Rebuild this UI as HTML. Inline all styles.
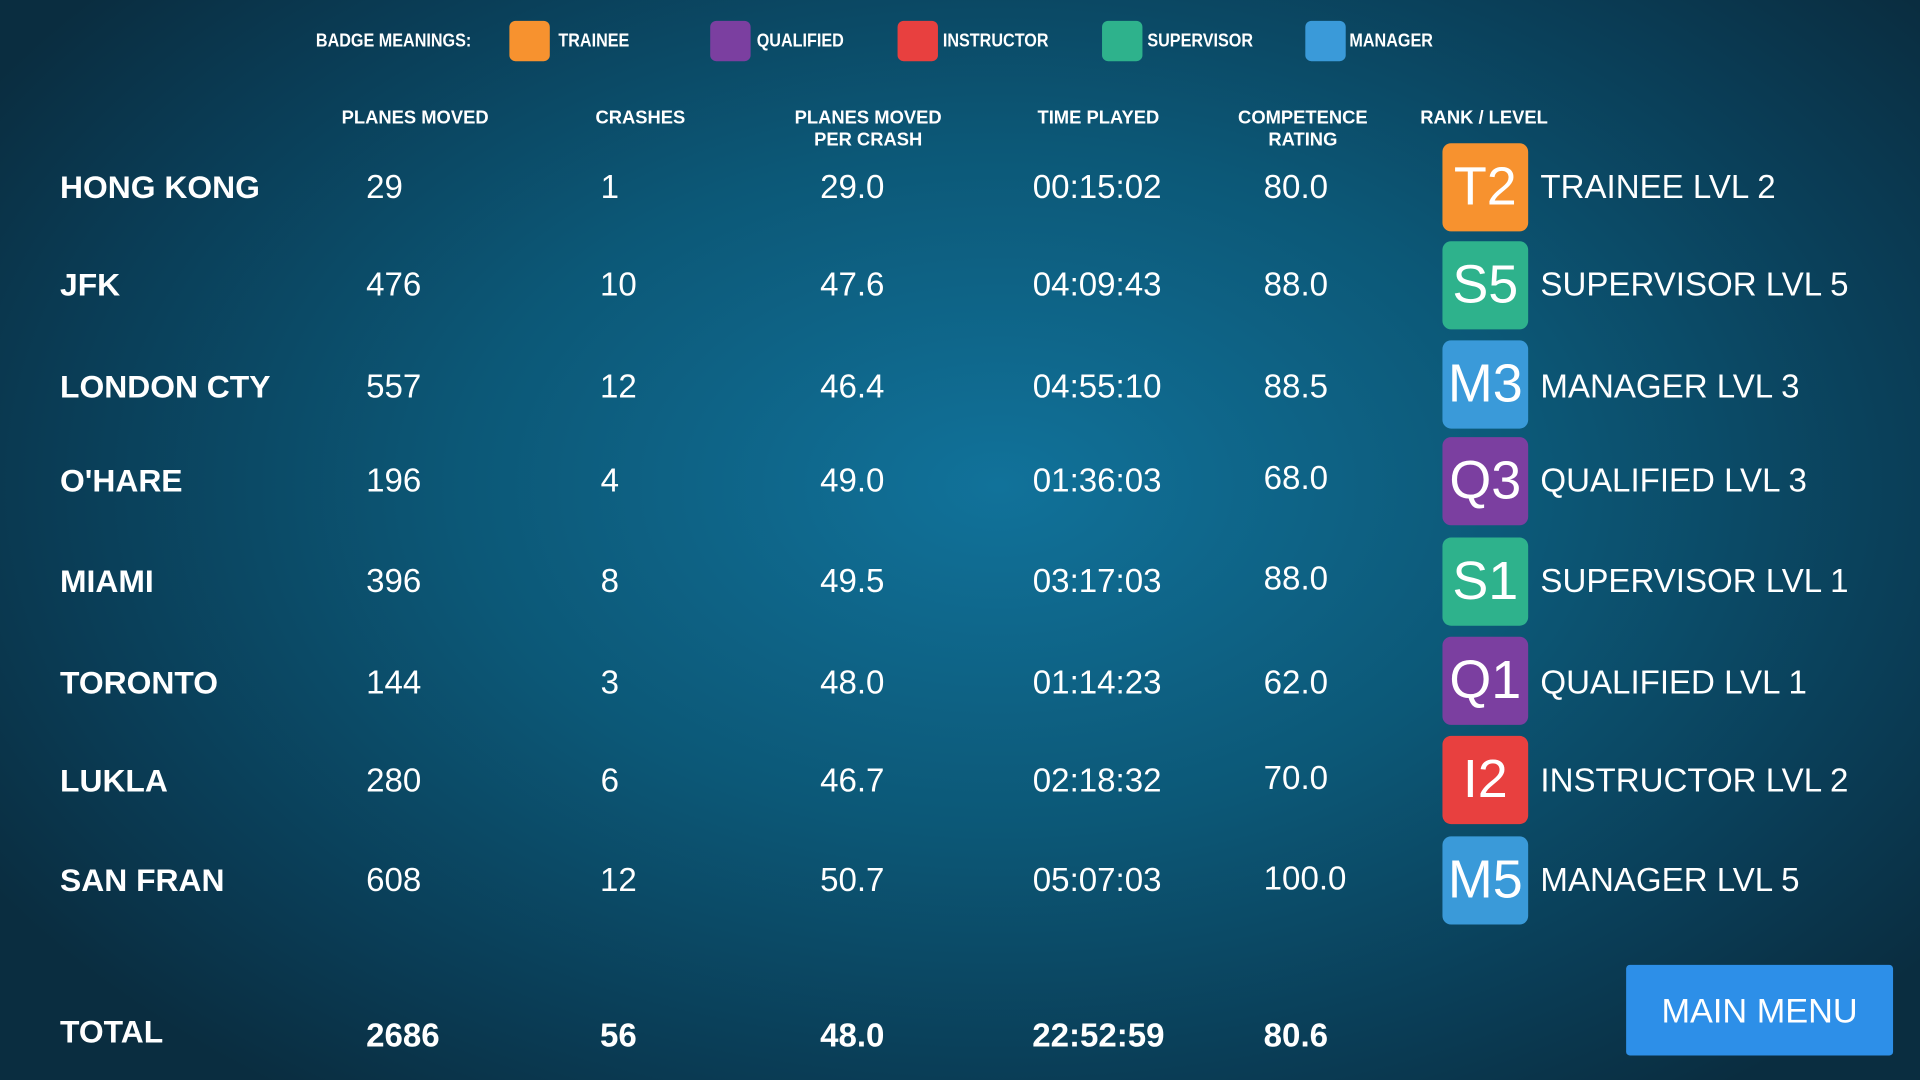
<!DOCTYPE html>
<html><head><meta charset="utf-8"><style>
html,body{margin:0;padding:0;width:1920px;height:1080px;overflow:hidden;background:#0b2a3e}
#w{position:absolute;left:0;top:0;width:1568px;height:882px;transform:scale(1.22449);transform-origin:0 0;
background:radial-gradient(ellipse 62% 70% at 52% 45%,#11729a 0%,#0c5877 45%,#0a3c55 80%,#0a2d40 100%);
font-family:"Liberation Sans Narrow","Liberation Sans",sans-serif;color:#fff}
.a{position:absolute;white-space:nowrap}
.h{font-size:15px;font-weight:bold;text-align:center;line-height:18px;transform:translate(-50%,0)}
.n{font-size:26px;font-weight:bold;transform:translateY(-50%)}
.v{font-size:27px;transform:translate(-50%,-50%)}
.vl{font-size:27px;transform:translateY(-50%)}
.b{position:absolute;left:1178px;width:70px;height:72px;border-radius:7px;font-size:44px;text-align:center;line-height:72px;transform:translateY(-50%)}
.sq{position:absolute;top:17px;width:33px;height:33px;border-radius:5px}
.lg{font-size:15px;font-weight:bold;top:25px;transform:scaleX(0.88);transform-origin:0 0}
.t{font-weight:bold}
</style></head><body><div id="w">
<div class="a lg" style="left:258px">BADGE MEANINGS:</div>
<div class="sq" style="left:416px;background:#f7922f"></div><div class="a lg" style="left:456px">TRAINEE</div>
<div class="sq" style="left:580px;background:#7b3fa0"></div><div class="a lg" style="left:618px">QUALIFIED</div>
<div class="sq" style="left:733px;background:#e8403f"></div><div class="a lg" style="left:770px">INSTRUCTOR</div>
<div class="sq" style="left:900px;background:#2eb28c"></div><div class="a lg" style="left:937px">SUPERVISOR</div>
<div class="sq" style="left:1066px;background:#3a9ad9"></div><div class="a lg" style="left:1102px">MANAGER</div>

<div class="a h" style="left:339px;top:88px">PLANES MOVED</div>
<div class="a h" style="left:523px;top:88px">CRASHES</div>
<div class="a h" style="left:709px;top:88px">PLANES MOVED<br>PER CRASH</div>
<div class="a h" style="left:897px;top:88px">TIME PLAYED</div>
<div class="a h" style="left:1064px;top:88px">COMPETENCE<br>RATING</div>
<div class="a h" style="left:1212px;top:88px">RANK / LEVEL</div>

<div class="a n" style="left:49px;top:153px">HONG KONG</div><div class="a vl" style="left:299px;top:153px">29</div><div class="a v" style="left:498px;top:153px">1</div><div class="a v" style="left:696px;top:153px">29.0</div><div class="a v" style="left:896px;top:153px">00:15:02</div><div class="a vl" style="left:1032px;top:153px">80.0</div><div class="b" style="top:153px;background:#f7922f">T2</div><div class="a vl" style="left:1258px;top:153px">TRAINEE LVL 2</div>
<div class="a n" style="left:49px;top:233px">JFK</div><div class="a vl" style="left:299px;top:233px">476</div><div class="a v" style="left:505px;top:233px">10</div><div class="a v" style="left:696px;top:233px">47.6</div><div class="a v" style="left:896px;top:233px">04:09:43</div><div class="a vl" style="left:1032px;top:233px">88.0</div><div class="b" style="top:233px;background:#2eb28c">S5</div><div class="a vl" style="left:1258px;top:233px">SUPERVISOR LVL 5</div>
<div class="a n" style="left:49px;top:316px">LONDON CTY</div><div class="a vl" style="left:299px;top:316px">557</div><div class="a v" style="left:505px;top:316px">12</div><div class="a v" style="left:696px;top:316px">46.4</div><div class="a v" style="left:896px;top:316px">04:55:10</div><div class="a vl" style="left:1032px;top:316px">88.5</div><div class="b" style="top:314px;background:#3a9ad9">M3</div><div class="a vl" style="left:1258px;top:316px">MANAGER LVL 3</div>
<div class="a n" style="left:49px;top:393px">O'HARE</div><div class="a vl" style="left:299px;top:393px">196</div><div class="a v" style="left:498px;top:393px">4</div><div class="a v" style="left:696px;top:393px">49.0</div><div class="a v" style="left:896px;top:393px">01:36:03</div><div class="a vl" style="left:1032px;top:391px">68.0</div><div class="b" style="top:393px;background:#7b3fa0">Q3</div><div class="a vl" style="left:1258px;top:393px">QUALIFIED LVL 3</div>
<div class="a n" style="left:49px;top:475px">MIAMI</div><div class="a vl" style="left:299px;top:475px">396</div><div class="a v" style="left:498px;top:475px">8</div><div class="a v" style="left:696px;top:475px">49.5</div><div class="a v" style="left:896px;top:475px">03:17:03</div><div class="a vl" style="left:1032px;top:473px">88.0</div><div class="b" style="top:475px;background:#2eb28c">S1</div><div class="a vl" style="left:1258px;top:475px">SUPERVISOR LVL 1</div>
<div class="a n" style="left:49px;top:558px">TORONTO</div><div class="a vl" style="left:299px;top:558px">144</div><div class="a v" style="left:498px;top:558px">3</div><div class="a v" style="left:696px;top:558px">48.0</div><div class="a v" style="left:896px;top:558px">01:14:23</div><div class="a vl" style="left:1032px;top:558px">62.0</div><div class="b" style="top:556px;background:#7b3fa0">Q1</div><div class="a vl" style="left:1258px;top:558px">QUALIFIED LVL 1</div>
<div class="a n" style="left:49px;top:638px">LUKLA</div><div class="a vl" style="left:299px;top:638px">280</div><div class="a v" style="left:498px;top:638px">6</div><div class="a v" style="left:696px;top:638px">46.7</div><div class="a v" style="left:896px;top:638px">02:18:32</div><div class="a vl" style="left:1032px;top:636px">70.0</div><div class="b" style="top:637px;background:#e8403f">I2</div><div class="a vl" style="left:1258px;top:638px">INSTRUCTOR LVL 2</div>
<div class="a n" style="left:49px;top:719px">SAN FRAN</div><div class="a vl" style="left:299px;top:719px">608</div><div class="a v" style="left:505px;top:719px">12</div><div class="a v" style="left:696px;top:719px">50.7</div><div class="a v" style="left:896px;top:719px">05:07:03</div><div class="a vl" style="left:1032px;top:718px">100.0</div><div class="b" style="top:719px;background:#3a9ad9">M5</div><div class="a vl" style="left:1258px;top:719px">MANAGER LVL 5</div>

<div class="a n" style="left:49px;top:843px">TOTAL</div><div class="a vl t" style="left:299px;top:846px">2686</div><div class="a v t" style="left:505px;top:846px">56</div><div class="a v t" style="left:696px;top:846px">48.0</div><div class="a v t" style="left:897px;top:846px">22:52:59</div><div class="a vl t" style="left:1032px;top:846px">80.6</div>

<div class="a" style="left:1328px;top:788px;width:218px;height:74px;background:#2d8fe8;border-radius:3px;font-size:28px;text-align:center;line-height:76px">MAIN MENU</div>
</div></body></html>
